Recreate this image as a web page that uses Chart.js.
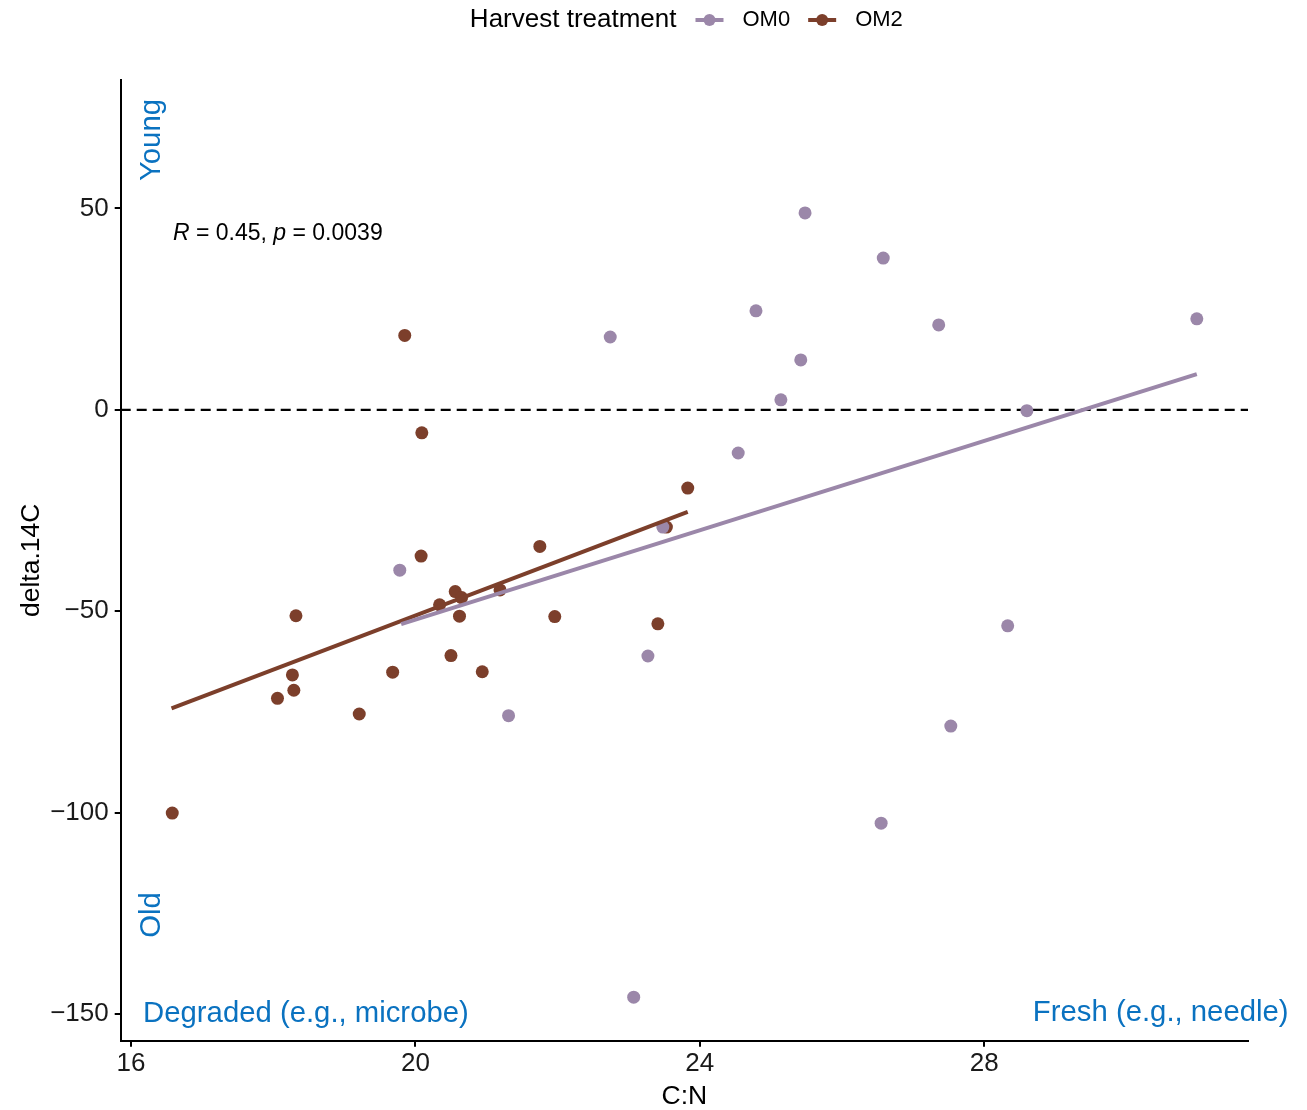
<!DOCTYPE html>
<html>
<head>
<meta charset="utf-8">
<script src="https://cdn.jsdelivr.net/npm/chart.js@4.4.1/dist/chart.umd.min.js"></script>
<style>
  html, body { margin: 0; padding: 0; background: #ffffff; }
  #wrap { width: 1307px; height: 1110px; position: relative; }
</style>
</head>
<body>
<div id="wrap"><canvas id="c" width="1307" height="1110"></canvas></div>
<script>
// ---- data ----
const om0X = [19.78, 21.31, 22.74, 23.07, 23.27, 23.48, 24.54, 24.79, 25.14, 25.42, 25.48, 26.55, 26.58, 27.36, 27.53, 28.33, 28.60, 30.99];
const om0Y = [-39.8, -75.9, 18.1, -145.8, -61.1, -29.1, -10.7, 24.6, 2.5, 12.4, 48.9, -102.6, 37.7, 21.1, -78.5, -53.6, -0.2, 22.6];
const om2X = [16.58, 18.06, 18.27, 18.29, 18.32, 19.21, 19.68, 19.85, 20.08, 20.09, 20.34, 20.50, 20.56, 20.62, 20.65, 20.94, 21.19, 21.75, 21.96, 23.41, 23.53, 23.83];
const om2Y = [-100.1, -71.6, -65.8, -69.6, -51.1, -75.5, -65.1, 18.5, -36.3, -5.7, -48.4, -61.0, -45.1, -51.2, -46.6, -65.0, -44.7, -33.9, -51.3, -53.1, -29.1, -19.4];
// fitted lines (endpoints)
const om0FitX = [19.80, 30.99];
const om0FitY = [-53.2, 8.9];
const om2FitX = [16.57, 23.83];
const om2FitY = [-74.1, -25.3];
const xTicks = [16, 20, 24, 28];
const yTicks = [-150, -100, -50, 0, 50];
const seriesNames = ['OM0', 'OM2'];
const legendTitle = 'Harvest treatment';
const statText = { r: '0.45', p: '0.0039' };

const COL0 = '#9b87a9';
const COL2 = '#7c3f2b';
const BLUE = '#0a72c0';
const FONT = '"Liberation Sans", Arial, Helvetica, sans-serif';

const pts = (xs, ys) => xs.map((x, i) => ({ x: x, y: ys[i] }));

const annotPlugin = {
  id: 'annot',
  afterDatasetsDraw(chart) {
    const ctx = chart.ctx;
    const xs = chart.scales.x, ys = chart.scales.y;
    const ca = chart.chartArea;
    ctx.save();
    // R / p text
    let x = xs.getPixelForValue(16.59), y = ys.getPixelForValue(43.7);
    ctx.textBaseline = 'middle';
    ctx.textAlign = 'left';
    ctx.fillStyle = '#000';
    const parts = [
      ['italic 23px ' + FONT, 'R'], ['23px ' + FONT, ' = ' + statText.r + ', '],
      ['italic 23px ' + FONT, 'p'], ['23px ' + FONT, ' = ' + statText.p]
    ];
    for (const [f, t] of parts) { ctx.font = f; ctx.fillText(t, x, y); x += ctx.measureText(t).width; }

    ctx.fillStyle = BLUE;
    ctx.font = '29.3px ' + FONT;
    // Young / Old (rotated)
    const rot = (txt, vx, vy) => {
      ctx.save();
      ctx.translate(xs.getPixelForValue(vx), ys.getPixelForValue(vy));
      ctx.rotate(-Math.PI / 2);
      ctx.textAlign = 'center'; ctx.textBaseline = 'middle';
      ctx.fillText(txt, 0, 0);
      ctx.restore();
    };
    rot('Young', 16.29, 67);
    rot('Old', 16.29, -125.4);
    ctx.textBaseline = 'middle';
    ctx.textAlign = 'left';
    ctx.fillText('Degraded (e.g., microbe)', xs.getPixelForValue(16.17), ys.getPixelForValue(-149.9));
    ctx.textAlign = 'right';
    ctx.fillText('Fresh (e.g., needle)', xs.getPixelForValue(32.28), ys.getPixelForValue(-149.8));

    // legend
    const ly = 20;
    ctx.textBaseline = 'middle';
    ctx.textAlign = 'left';
    ctx.font = '26px ' + FONT;
    const wTitle = ctx.measureText(legendTitle).width;
    ctx.font = '22px ' + FONT;
    const w0 = ctx.measureText(seriesNames[0]).width, w1 = ctx.measureText(seriesNames[1]).width;
    const keyW = 28, gapT = 19, gapK = 19, gapI = 18;
    const total = wTitle + gapT + keyW + gapK + w0 + gapI + keyW + gapK + w1;
    let lx = (ca.left + ca.right) / 2 - total / 2 + 2;
    ctx.fillStyle = '#000';
    ctx.font = '26px ' + FONT;
    ctx.fillText(legendTitle, lx, ly);
    lx += wTitle + gapT;
    const key = (col, sx) => {
      ctx.strokeStyle = col; ctx.lineWidth = 4;
      ctx.beginPath(); ctx.moveTo(sx, ly); ctx.lineTo(sx + keyW, ly); ctx.stroke();
      ctx.fillStyle = col;
      ctx.beginPath(); ctx.arc(sx + keyW / 2, ly, 6, 0, Math.PI * 2); ctx.fill();
    };
    key(COL0, lx); lx += keyW + gapK;
    ctx.fillStyle = '#000'; ctx.font = '22px ' + FONT;
    ctx.fillText(seriesNames[0], lx, ly); lx += w0 + gapI;
    key(COL2, lx); lx += keyW + gapK;
    ctx.fillStyle = '#000'; ctx.font = '22px ' + FONT;
    ctx.fillText(seriesNames[1], lx, ly);
    ctx.restore();
  }
};

const xMin = 15.855, xMax = 31.71, yMin = -156.6, yMax = 81.9;

new Chart(document.getElementById('c'), {
  type: 'scatter',
  data: {
    datasets: [
      { label: 'OM0 fit', data: pts(om0FitX, om0FitY), showLine: true, borderColor: COL0, borderWidth: 4,
        pointRadius: 0, fill: false, order: 1 },
      { label: 'OM2 fit', data: pts(om2FitX, om2FitY), showLine: true, borderColor: COL2, borderWidth: 4,
        pointRadius: 0, fill: false, order: 2 },
      { label: 'OM0', data: pts(om0X, om0Y), backgroundColor: COL0, borderWidth: 0, pointRadius: 6.5, order: 3 },
      { label: 'OM2', data: pts(om2X, om2Y), backgroundColor: COL2, borderWidth: 0, pointRadius: 6.5, order: 4 },
      { label: 'zero', data: [{ x: xMin, y: 0 }, { x: xMax, y: 0 }], showLine: true, borderColor: '#000',
        borderWidth: 2.2, borderDash: [10, 6], pointRadius: 0, order: 5 }
    ]
  },
  options: {
    responsive: false,
    animation: false,
    devicePixelRatio: 1,
    layout: { padding: { top: 80, right: 59, left: 0, bottom: 0 } },
    plugins: { legend: { display: false }, tooltip: { enabled: false } },
    scales: {
      x: {
        type: 'linear', min: xMin, max: xMax,
        afterBuildTicks: s => { s.ticks = xTicks.map(v => ({ value: v })); },
        afterFit: s => { s.height = 69.3; },
        grid: { display: true, drawOnChartArea: false, drawTicks: true, tickLength: 6, color: '#000', lineWidth: 2 },
        border: { display: true, color: '#000', width: 2 },
        ticks: { color: '#1a1a1a', font: { family: FONT, size: 26 }, padding: 2, maxRotation: 0 },
        title: { display: true, text: 'C:N', color: '#000', font: { family: FONT, size: 26.5, lineHeight: 1 },
                 padding: { top: 0, bottom: 0 } }
      },
      y: {
        type: 'linear', min: yMin, max: yMax,
        afterBuildTicks: s => { s.ticks = yTicks.map(v => ({ value: v })); },
        afterFit: s => { s.width = 120.7; },
        grid: { display: true, drawOnChartArea: false, drawTicks: true, tickLength: 6, color: '#000', lineWidth: 2 },
        border: { display: true, color: '#000', width: 2 },
        ticks: { color: '#1a1a1a', font: { family: FONT, size: 26 }, padding: 6,
                 callback: v => String(v).replace('-', '\u2212') },
        title: { display: true, text: 'delta.14C', color: '#000', font: { family: FONT, size: 26.5, lineHeight: 1 },
                 padding: { top: 18.5, bottom: 0 } }
      }
    }
  },
  plugins: [annotPlugin]
});
</script>
</body>
</html>
